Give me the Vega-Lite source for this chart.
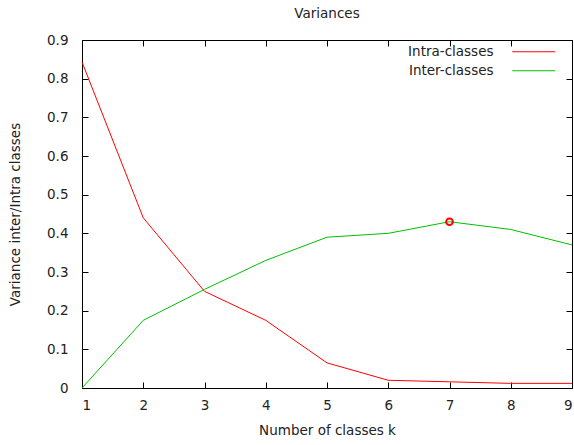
{
  "$schema": "https://vega.github.io/schema/vega-lite/v6.json",
  "autosize": "none",
  "width": 490,
  "height": 348,
  "padding": {"left": 82, "top": 40, "right": 2, "bottom": 57},
  "background": "white",
  "title": {"text": "Variances", "font": "DejaVu Sans", "fontSize": 13.5, "fontWeight": "normal", "color": "#222", "offset": 13, "anchor": "middle", "frame": "group"},
  "config": {
    "font": "DejaVu Sans",
    "view": {"stroke": "#000", "strokeWidth": 1},
    "axis": {
      "grid": false,
      "domain": false,
      "ticks": true,
      "zindex": 1,
      "tickColor": "#000",
      "tickOpacity": 1,
      "tickWidth": 1,
      "tickSize": 6,
      "offset": -6,
      "labelFont": "DejaVu Sans",
      "labelFontSize": 13.5,
      "labelColor": "#222",
      "titleFont": "DejaVu Sans",
      "titleFontSize": 13.5,
      "titleFontWeight": "normal",
      "titleColor": "#222"
    }
  },
  "datasets": {
    "variances": [
      {"k": 1, "value": 0.843, "series": "Intra-classes"},
      {"k": 2, "value": 0.44, "series": "Intra-classes"},
      {"k": 3, "value": 0.25, "series": "Intra-classes"},
      {"k": 4, "value": 0.175, "series": "Intra-classes"},
      {"k": 5, "value": 0.065, "series": "Intra-classes"},
      {"k": 6, "value": 0.02, "series": "Intra-classes"},
      {"k": 7, "value": 0.016, "series": "Intra-classes"},
      {"k": 8, "value": 0.012, "series": "Intra-classes"},
      {"k": 9, "value": 0.012, "series": "Intra-classes"},
      {"k": 1, "value": 0.0, "series": "Inter-classes"},
      {"k": 2, "value": 0.175, "series": "Inter-classes"},
      {"k": 3, "value": 0.255, "series": "Inter-classes"},
      {"k": 4, "value": 0.33, "series": "Inter-classes"},
      {"k": 5, "value": 0.39, "series": "Inter-classes"},
      {"k": 6, "value": 0.4, "series": "Inter-classes"},
      {"k": 7, "value": 0.43, "series": "Inter-classes"},
      {"k": 8, "value": 0.41, "series": "Inter-classes"},
      {"k": 9, "value": 0.37, "series": "Inter-classes"}
    ],
    "best": [{"k": 7, "value": 0.43}]
  },
  "layer": [
    {
      "data": {"name": "variances"},
      "mark": {"type": "line", "strokeWidth": 1},
      "encoding": {
        "x": {"field": "k", "type": "quantitative", "scale": {"domain": [1, 9], "nice": false, "zero": false},
              "axis": {"orient": "bottom", "values": [1,2,3,4,5,6,7,8,9], "labelPadding": 10, "title": "Number of classes k", "titlePadding": 12}},
        "y": {"field": "value", "type": "quantitative", "scale": {"domain": [0, 0.9], "nice": false},
              "axis": {"orient": "left", "values": [0,0.1,0.2,0.3,0.4,0.5,0.6,0.7,0.8,0.9], "format": ".1~f", "labelPadding": 14, "title": "Variance inter/Intra classes", "titlePadding": 24}},
        "color": {"field": "series", "type": "nominal",
                  "scale": {"domain": ["Intra-classes", "Inter-classes"], "range": ["#ff0000", "#00c000"]},
                  "legend": {"title": null, "orient": "none", "legendX": 445, "legendY": 5, "symbolType": "M-5,0H5", "symbolSize": 74, "symbolStrokeWidth": 1, "labelAlign": "right", "labelOffset": -47, "labelFontSize": 13.5, "labelFont": "DejaVu Sans", "labelColor": "#222", "rowPadding": 4, "labelLimit": 200}}
      }
    },
    {
      "data": {"name": "variances"},
      "mark": {"type": "line", "opacity": 0},
      "encoding": {
        "x": {"field": "k", "type": "quantitative", "axis": {"orient": "top", "values": [1,2,3,4,5,6,7,8,9], "labels": false, "title": null}},
        "y": {"field": "value", "type": "quantitative", "axis": {"orient": "right", "values": [0,0.1,0.2,0.3,0.4,0.5,0.6,0.7,0.8,0.9], "labels": false, "title": null}}
      }
    },
    {
      "data": {"name": "best"},
      "mark": {"type": "point", "shape": "circle", "filled": false, "stroke": "#ff0000", "strokeWidth": 2, "size": 45, "opacity": 1},
      "encoding": {
        "x": {"field": "k", "type": "quantitative", "axis": null},
        "y": {"field": "value", "type": "quantitative", "axis": null}
      }
    }
  ],
  "resolve": {"axis": {"x": "independent", "y": "independent"}}
}
